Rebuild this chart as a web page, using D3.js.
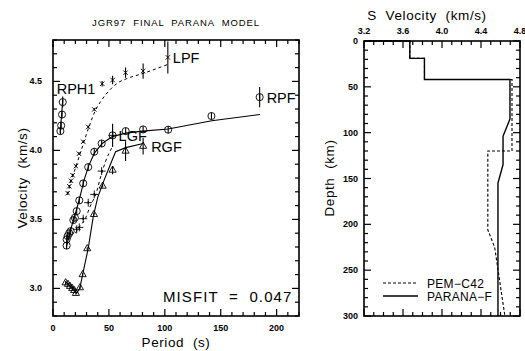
<!DOCTYPE html>
<html>
<head>
<meta charset="utf-8">
<script src="https://cdn.jsdelivr.net/npm/d3@7"></script>
<style>
  body { margin: 0; background: #fff; }
  text { font-family: "Liberation Sans", Arial, sans-serif; fill: #000; white-space: pre; }
</style>
</head>
<body>
<script>
// ---- dispersion data (period s, group/phase velocity km/s) ----
var rph1T = [8.7, 8.1, 7.3, 6.6];
var rph1V = [4.35, 4.26, 4.18, 4.14];
var rph1Err = [0.04, 0.025, 0.025, 0.025];
var rph1PredT = [8.8, 6.4];
var rph1PredV = [4.37, 4.13];

var lpfT = [13.1, 14.6, 16.1, 17.6, 20.5, 23.2, 27, 31.5, 36.9, 44, 53.3, 64.9, 80.6, 102.7];
var lpfV = [3.69, 3.74, 3.78, 3.82, 3.886, 3.976, 4.063, 4.17, 4.297, 4.483, 4.51, 4.563, 4.575, 4.674];
var lpfErr = [0.01, 0.01, 0.01, 0.01, 0.01, 0.01, 0.01, 0.01, 0.01, 0.02, 0.031, 0.037, 0.055, 0.116];
var lpfPredT = [13, 16, 20, 24, 28, 33, 38, 44, 51, 58, 66, 80.6, 102.7];
var lpfPredV = [3.68, 3.77, 3.87, 3.97, 4.07, 4.19, 4.29, 4.37, 4.44, 4.49, 4.52, 4.558, 4.623];

var lgfT = [21.2, 23.5, 27, 31.5, 36.9, 43.5, 53.3];
var lgfV = [3.428, 3.442, 3.505, 3.621, 3.681, 3.85, 4.109];
var lgfErr = [0.01, 0.01, 0.01, 0.01, 0.01, 0.01, 0.085];
var lgfPredT = [20, 24, 28.6, 33, 39, 42, 47, 53.3];
var lgfPredV = [3.40, 3.45, 3.50, 3.59, 3.70, 3.79, 3.92, 4.03];

var rgfT = [11.3, 13.4, 15.2, 17.2, 19, 20.5, 24.1, 26.5, 30.6, 36.6, 44.4, 53.3, 64.9, 80.6];
var rgfV = [3.041, 3.03, 3.015, 3.0, 2.985, 2.964, 3.005, 3.10, 3.288, 3.536, 3.741, 3.857, 3.995, 4.03];
var rgfErr = [0.01, 0.01, 0.01, 0.01, 0.01, 0.01, 0.01, 0.01, 0.01, 0.01, 0.01, 0.03, 0.072, 0.06];
var rgfPredT = [11, 15, 19, 21, 24, 27, 31.5, 36, 40, 45, 52.4, 56, 65, 80.6];
var rgfPredV = [3.05, 3.02, 2.99, 2.965, 3.0, 3.12, 3.29, 3.52, 3.66, 3.77, 3.92, 3.99, 4.02, 4.05];

var rpfT = [12.2, 12.2, 13.1, 14.5, 15.8, 18.2, 19.6, 21.2, 23.5, 27, 31.5, 36.9, 43.5, 53.3, 65, 80.6, 103, 141.7, 184.8];
var rpfV = [3.31, 3.355, 3.379, 3.40, 3.415, 3.495, 3.512, 3.56, 3.638, 3.761, 3.879, 3.99, 4.05, 4.109, 4.14, 4.152, 4.15, 4.249, 4.386];
var rpfErr = 0.025;
var rpfPredT = [12, 15, 18, 21, 24, 28, 32, 37, 44, 53, 65, 80, 103, 142, 185];
var rpfPredV = [3.3, 3.4, 3.49, 3.57, 3.66, 3.79, 3.89, 3.98, 4.05, 4.1, 4.125, 4.14, 4.155, 4.215, 4.26];

// ---- shear velocity profiles (depth km, Vs km/s) ----
var paranaDepth = [0, 0, 19, 19, 42, 42, 85, 104, 135, 155, 300];
var paranaVs = [3.2, 3.67, 3.67, 3.82, 3.82, 4.697, 4.697, 4.626, 4.626, 4.574, 4.574];
var pemDepth = [0, 0, 19, 19, 42, 42, 120, 120, 206, 225, 300];
var pemVs = [3.2, 3.67, 3.67, 3.82, 3.82, 4.718, 4.718, 4.47, 4.47, 4.54, 4.645];

var periodTicks = [0, 50, 100, 150, 200];
var velTicks = [3.0, 3.5, 4.0, 4.5];
var vsTicks = [3.2, 3.6, 4.0, 4.4, 4.8];
var depthTicks = [0, 50, 100, 150, 200, 250, 300];

var misfit = "0.047";

var svg = d3.select("body").append("svg")
  .attr("width", 525).attr("height", 351);

function zip(a, b) { return a.map(function(d, i) { return [d, b[i]]; }); }

// inward ticks on all four sides
function frame(g, x, y, xMajor, xMinor, yMajor, yMinor) {
  var x0 = x.range()[0], x1 = x.range()[1], y0 = d3.min(y.range()), y1 = d3.max(y.range());
  var t = g.append("g").attr("stroke", "#000").attr("stroke-width", 1.2);
  xMinor.forEach(function(v) {
    var L = xMajor.some(function(m) { return Math.abs(m - v) < 1e-6; }) ? 7 : 4;
    t.append("line").attr("x1", x(v)).attr("x2", x(v)).attr("y1", y1).attr("y2", y1 - L);
    t.append("line").attr("x1", x(v)).attr("x2", x(v)).attr("y1", y0).attr("y2", y0 + L);
  });
  yMinor.forEach(function(v) {
    var L = yMajor.some(function(m) { return Math.abs(m - v) < 1e-6; }) ? 7 : 4;
    t.append("line").attr("x1", x0).attr("x2", x0 + L).attr("y1", y(v)).attr("y2", y(v));
    t.append("line").attr("x1", x1).attr("x2", x1 - L).attr("y1", y(v)).attr("y2", y(v));
  });
  g.append("rect").attr("x", x0).attr("y", y0).attr("width", x1 - x0).attr("height", y1 - y0)
    .attr("fill", "none").attr("stroke", "#000").attr("stroke-width", 1.6);
}

// ================= left panel =================
var xP = d3.scaleLinear().domain([0, 220]).range([53, 299]);
var yV = d3.scaleLinear().domain([2.8, 4.8]).range([316, 40]);
var left = svg.append("g");

frame(left, xP, yV, periodTicks, d3.range(0, 221, 10),
  velTicks, d3.range(28, 49).map(function(d) { return d / 10; }));

left.selectAll(".xl").data(periodTicks).enter().append("text")
  .attr("x", function(d) { return xP(d); }).attr("y", 331)
  .attr("text-anchor", "middle").style("font-size", "9px").style("font-weight", "bold")
  .text(function(d) { return d; });
left.selectAll(".yl").data(velTicks).enter().append("text")
  .attr("x", 42).attr("y", function(d) { return yV(d) + 3; })
  .attr("text-anchor", "end").style("font-size", "9px").style("font-weight", "bold")
  .text(function(d) { return d.toFixed(1); });

left.append("text").attr("x", 176).attr("y", 26).attr("text-anchor", "middle")
  .style("font-size", "9.5px").style("letter-spacing", "0.9px").text("JGR97  FINAL  PARANA  MODEL");
left.append("text").attr("x", 176).attr("y", 347).attr("text-anchor", "middle")
  .style("font-size", "13.5px").style("letter-spacing", "0.6px").text("Period  (s)");
left.append("text").attr("transform", "translate(27,178) rotate(-90)").attr("text-anchor", "middle")
  .style("font-size", "13.5px").style("letter-spacing", "0.6px").text("Velocity  (km/s)");

var line = d3.line().x(function(d) { return xP(d[0]); }).y(function(d) { return yV(d[1]); })
  .curve(d3.curveMonotoneX);
var lineS = d3.line().x(function(d) { return xP(d[0]); }).y(function(d) { return yV(d[1]); });

left.append("path").datum(zip(lpfPredT, lpfPredV)).attr("d", line)
  .attr("fill", "none").attr("stroke", "#000").attr("stroke-width", 1).attr("stroke-dasharray", "3,3");
left.append("path").datum(zip(lgfPredT, lgfPredV)).attr("d", line)
  .attr("fill", "none").attr("stroke", "#000").attr("stroke-width", 1).attr("stroke-dasharray", "3,3");
left.append("path").datum(zip(rgfPredT, rgfPredV)).attr("d", lineS)
  .attr("fill", "none").attr("stroke", "#000").attr("stroke-width", 1.1);
left.append("path").datum(zip(rpfPredT, rpfPredV)).attr("d", lineS)
  .attr("fill", "none").attr("stroke", "#000").attr("stroke-width", 1.1);
left.append("path").datum(zip(rph1PredT, rph1PredV)).attr("d", lineS)
  .attr("fill", "none").attr("stroke", "#000").attr("stroke-width", 1.1);

function errBars(T, V, E) {
  left.append("g").selectAll("line").data(T).enter().append("line")
    .attr("x1", function(d) { return xP(d); }).attr("x2", function(d) { return xP(d); })
    .attr("y1", function(d, i) { return yV(V[i] - (Array.isArray(E) ? E[i] : E)); })
    .attr("y2", function(d, i) { return yV(V[i] + (Array.isArray(E) ? E[i] : E)); })
    .attr("stroke", "#000").attr("stroke-width", 1.1);
}
function markers(T, V, sym, size) {
  left.append("g").selectAll("path").data(T).enter().append("path")
    .attr("transform", function(d, i) { return "translate(" + xP(d) + "," + yV(V[i]) + ")"; })
    .attr("d", d3.symbol().type(sym).size(size))
    .attr("fill", "none").attr("stroke", "#000").attr("stroke-width", 0.9);
}
var xSym = { draw: function(c, s) { var r = Math.sqrt(s) / 2; c.moveTo(-r, -r); c.lineTo(r, r); c.moveTo(-r, r); c.lineTo(r, -r); } };
var plusSym = { draw: function(c, s) { var r = Math.sqrt(s) / 2; c.moveTo(-r, 0); c.lineTo(r, 0); c.moveTo(0, -r); c.lineTo(0, r); } };

errBars(lpfT, lpfV, lpfErr); markers(lpfT, lpfV, xSym, 20);
errBars(lgfT, lgfV, lgfErr); markers(lgfT, lgfV, plusSym, 64);
errBars(rgfT, rgfV, rgfErr); markers(rgfT, rgfV, d3.symbolTriangle, 22);
errBars(rpfT, rpfV, rpfErr); markers(rpfT, rpfV, d3.symbolCircle, 40);
var rpfLast = rpfT.length - 1;
errBars([rpfT[rpfLast]], [rpfV[rpfLast]], 0.073);
errBars(rph1T, rph1V, rph1Err); markers(rph1T, rph1V, d3.symbolCircle, 40);

function label(txt, T, V, dx, dy) {
  left.append("text").attr("x", xP(T) + dx).attr("y", yV(V) + dy)
    .style("font-size", "14.5px").text(txt);
}
label("RPH1", rph1T[0], rph1V[0], -6, -8);
label("LPF", lpfT[lpfT.length - 1], lpfV[lpfV.length - 1], 5, 6);
label("LGF", lgfT[lgfT.length - 1], lgfV[lgfV.length - 1], 6, 6);
label("RGF", rgfT[rgfT.length - 1], rgfV[rgfV.length - 1], 8, 6);
label("RPF", rpfT[rpfLast], rpfV[rpfLast], 7, 6);

left.append("text").attr("x", 163).attr("y", 302)
  .style("font-size", "15px").style("letter-spacing", "1.1px").text("MISFIT  =  " + misfit);

// ================= right panel =================
var xS = d3.scaleLinear().domain([3.2, 4.8]).range([364, 520]);
var yD = d3.scaleLinear().domain([0, 300]).range([41, 316]);
var right = svg.append("g");

frame(right, xS, yD, vsTicks, d3.range(32, 49).map(function(d) { return d / 10; }),
  depthTicks, d3.range(0, 301, 10));

right.selectAll(".xl").data(vsTicks).enter().append("text")
  .attr("x", function(d) { return xS(d); }).attr("y", 34)
  .attr("text-anchor", "middle").style("font-size", "9px").style("font-weight", "bold")
  .text(function(d) { return d.toFixed(1); });
right.selectAll(".yl").data(depthTicks).enter().append("text")
  .attr("x", 358).attr("y", function(d) { return yD(d) + 3; })
  .attr("text-anchor", "end").style("font-size", "9px").style("font-weight", "bold")
  .text(function(d) { return d; });

right.append("text").attr("x", 427).attr("y", 20).attr("text-anchor", "middle")
  .style("font-size", "13.5px").style("letter-spacing", "0.6px").text("S  Velocity  (km/s)");
right.append("text").attr("transform", "translate(334,178) rotate(-90)").attr("text-anchor", "middle")
  .style("font-size", "13.5px").style("letter-spacing", "0.6px").text("Depth  (km)");

var prof = d3.line().x(function(d) { return xS(d[0]); }).y(function(d) { return yD(d[1]); });
right.append("path").datum(zip(paranaVs, paranaDepth)).attr("d", prof)
  .attr("fill", "none").attr("stroke", "#000").attr("stroke-width", 1.4);
right.append("path").datum(zip(pemVs, pemDepth)).attr("d", prof)
  .attr("fill", "none").attr("stroke", "#000").attr("stroke-width", 1.1).attr("stroke-dasharray", "3,2");

var legend = [["PEM-C42", "3,2"], ["PARANA-F", null]];
legend.forEach(function(d, i) {
  var ly = 283 + i * 13;
  var l = right.append("line").attr("x1", 383).attr("x2", 418).attr("y1", ly).attr("y2", ly)
    .attr("stroke", "#000").attr("stroke-width", d[1] ? 1.1 : 1.4);
  if (d[1]) l.attr("stroke-dasharray", d[1]);
  right.append("text").attr("x", 427).attr("y", ly + 4.5)
    .style("font-size", "12px").style("letter-spacing", "0.3px").text(d[0].replace("-", "\u2212"));
});
</script>
</body>
</html>
